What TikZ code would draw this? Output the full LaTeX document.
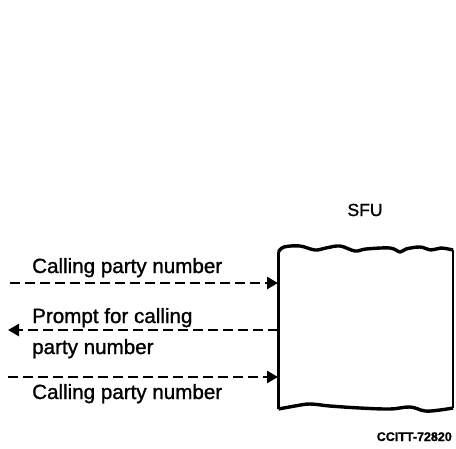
\documentclass[tikz,border=0pt]{standalone}
\usepackage{fontspec}
\setmainfont{Liberation Sans}[FakeBold=1.2]
\usetikzlibrary{arrows.meta}
\begin{document}
\begin{tikzpicture}[x=1pt,y=-1pt,
  lbl/.style={font=\fontsize{20.6}{23}\selectfont, anchor=base west, inner sep=0pt},
  flow/.style={line width=2.6pt, dash pattern=on 10pt off 5pt, -{Triangle[length=11pt,width=12pt]}},
  boxline/.style={line width=3.4pt, line join=round}]
\useasboundingbox (0,0) rectangle (456,448);
% box
\node[draw=none, minimum width=175pt, minimum height=157pt, inner sep=0pt] (sfu) at (365.5,330) {};
\coordinate (tl) at (278.5,252);
\coordinate (bl) at (278.5,409);
\coordinate (tr) at (453,250);
\coordinate (br) at (453,408);
\draw[boxline] (bl) -- (tl);
\draw[boxline] plot[smooth, tension=0.6] coordinates {(278.5,252) (284,247) (300,246) (315,250) (326,248) (340,246) (355,251) (366,249) (390,248) (400,252) (406,249) (420,247) (431,250) (441,248) (453,250)};
\draw[boxline] plot[smooth, tension=0.6] coordinates {(278.5,409) (295,406) (310,404) (330,406) (360,408) (390,409) (410,407) (425,411) (440,410) (453,408)};
\draw[line width=2.2pt] (tr) -- (br);
\node[font=\fontsize{17.5}{20}\selectfont, inner sep=0pt, anchor=base] (sfulbl) at (365,216) {SFU};
% arrow endpoints
\coordinate (a1s) at (10,283);
\coordinate (a1e) at (278,283);
\coordinate (a2s) at (278,330);
\coordinate (a2e) at (8,330);
\coordinate (a3s) at (8,377);
\coordinate (a3e) at (278,377);
\draw[flow] (a1s) -- (a1e);
\draw[flow] (a2s) -- (a2e);
\draw[flow] (a3s) -- (a3e);
% labels
\node[lbl] (l1) at (32,273) {Calling party number};
\node[lbl] (l2) at (32,323) {Prompt for calling};
\node[lbl] (l3) at (32,354) {party number};
\node[lbl] (l4) at (32,399) {Calling party number};
\node[font=\fontsize{12.5}{14}\selectfont\bfseries, anchor=base east, inner sep=0pt] (ref) at (452,441) {CCITT-72820};
\end{tikzpicture}
\end{document}
